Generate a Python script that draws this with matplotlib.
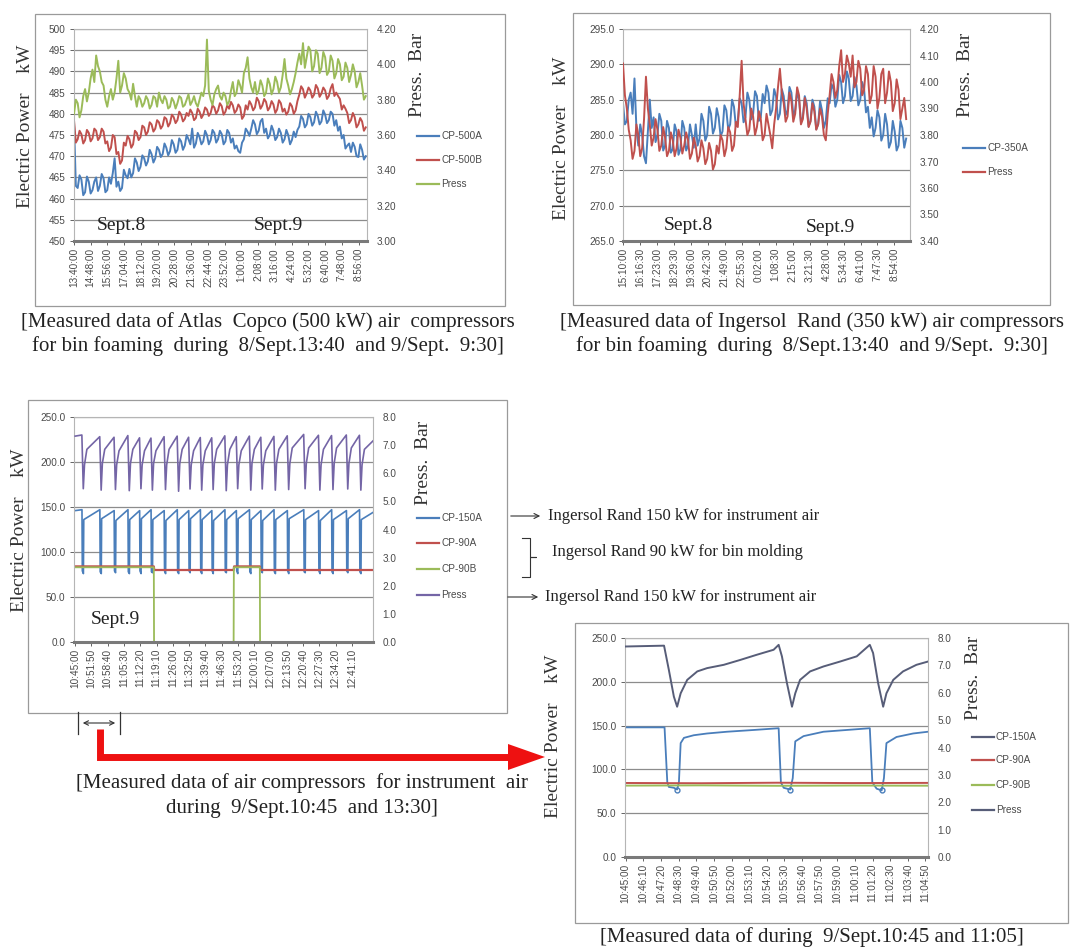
import numpy as np
import matplotlib.pyplot as plt
from matplotlib.lines import Line2D
from matplotlib.patches import Rectangle, FancyArrowPatch, Polygon
from matplotlib.ticker import FormatStrFormatter

W, H = 1078, 952
SERIF = "Liberation Serif"
SANS = "Liberation Sans"
TICK_COLOR = "#4a4a4a"

BLUE = "#4a7ebb"
RED = "#c0504d"
GREEN = "#9bbb59"
PURPLE = "#7465a6"
SLATE = "#575d78"

# --- Atlas Copco 500 kW, 8/Sept 13:40 - 9/Sept 9:30 (7.5 min samples) ---
ticks_500 = ["13:40:00", "14:48:00", "15:56:00", "17:04:00", "18:12:00", "19:20:00",
             "20:28:00", "21:36:00", "22:44:00", "23:52:00", "1:00:00", "2:08:00",
             "3:16:00", "4:24:00", "5:32:00", "6:40:00", "7:48:00", "8:56:00"]
cp500a = [
    478.0, 463.0, 462.5, 465.5, 464.5, 460.8, 461.5, 465.2, 464.0, 461.2,
    462.0, 464.0, 465.0, 461.8, 463.0, 465.8, 464.8, 461.5, 462.0, 465.0,
    463.5, 466.0, 469.5, 462.8, 464.0, 461.8, 462.5, 466.8, 465.5, 464.8,
    467.0, 465.0, 466.0, 469.5, 468.5, 466.5, 467.5, 470.2, 469.5, 467.8,
    468.8, 471.5, 470.5, 468.5, 469.5, 472.2, 471.5, 469.8, 470.5, 473.0,
    472.0, 470.2, 471.2, 473.8, 472.8, 470.8, 471.5, 474.2, 473.5, 471.5,
    472.5, 475.0, 474.0, 472.8, 476.5, 472.0, 473.0, 475.5, 474.5, 472.8,
    473.5, 476.0, 475.0, 472.8, 473.8, 476.2, 475.5, 473.2, 474.0, 476.0,
    475.2, 472.8, 473.5, 476.2, 475.5, 473.2, 474.2, 471.8, 472.5, 471.2,
    470.8, 473.2, 474.0, 476.5, 475.8, 474.8, 476.5, 478.5, 477.5, 475.2,
    476.0, 478.2, 478.8, 475.5, 476.5, 474.2, 475.0, 477.2, 476.0, 473.8,
    474.5, 476.5, 475.5, 473.2, 474.0, 476.2, 475.0, 472.8, 473.8, 475.8,
    474.5, 476.2, 477.0, 479.5, 478.8, 476.8, 477.5, 480.0, 479.2, 477.2,
    478.0, 480.5, 479.5, 477.5, 478.2, 480.8, 479.8, 477.8, 478.5, 480.5,
    480.0, 477.2, 478.5, 476.0, 477.0, 474.2, 475.0, 471.8, 472.5, 473.0,
    471.0, 473.2, 472.2, 470.0, 469.8, 472.8, 471.5, 469.2, 470.0]
cp500b = [
    478.5, 473.2, 474.0, 476.0, 475.2, 473.0, 473.8, 476.2, 475.5, 473.5,
    474.2, 476.5, 476.0, 473.8, 474.5, 476.5, 475.8, 473.0, 473.5, 471.2,
    472.0, 475.0, 474.5, 470.5, 471.0, 468.2, 469.0, 473.2, 472.5, 474.8,
    474.0, 472.0, 472.8, 476.0, 475.5, 473.8, 474.5, 477.2, 476.8, 475.0,
    475.8, 478.0, 477.5, 475.8, 476.5, 478.5, 478.0, 476.5, 477.2, 479.2,
    478.8, 477.0, 477.8, 479.8, 479.2, 477.8, 478.5, 480.5, 479.8, 478.2,
    478.8, 480.2, 479.5, 481.0, 480.2, 478.5, 479.0, 481.2, 480.5, 479.0,
    479.8, 481.5, 481.0, 479.5, 480.2, 482.0, 481.5, 480.0, 480.8, 482.5,
    481.8, 479.8, 480.5, 482.0, 481.2, 482.8, 482.0, 480.2, 480.8, 482.2,
    481.5, 478.8, 479.5, 482.0, 481.0, 483.0, 482.2, 480.8, 481.5, 483.8,
    483.0, 481.2, 482.0, 483.5, 482.8, 480.8, 481.5, 483.0, 482.2, 480.2,
    481.0, 483.2, 482.5, 480.5, 481.2, 479.8, 480.5, 482.5, 481.8, 480.0,
    480.8, 483.0, 484.5, 486.5, 485.8, 483.8, 484.8, 486.2, 485.5, 483.8,
    484.5, 486.8, 486.0, 484.0, 484.8, 486.2, 485.5, 483.5, 484.2, 486.0,
    487.0, 484.2, 485.0, 484.2, 483.5, 481.0, 482.0, 481.2, 480.2, 477.8,
    478.5, 480.2, 479.2, 476.8, 477.5, 479.0, 478.2, 476.0, 476.8]
press500 = [
    3.72, 3.80, 3.78, 3.70, 3.74, 3.82, 3.86, 3.79, 3.84, 3.92,
    3.97, 3.90, 4.05, 3.99, 3.96, 3.90, 3.88, 3.80, 3.76, 3.82,
    3.86, 3.80, 3.84, 3.92, 4.02, 3.84, 3.88, 3.95, 3.92, 3.86,
    3.84, 3.80, 3.89, 3.82, 3.76, 3.82, 3.80, 3.76, 3.78, 3.82,
    3.80, 3.75, 3.77, 3.82, 3.81, 3.76, 3.84, 3.80, 3.78, 3.82,
    3.80, 3.75, 3.76, 3.81, 3.79, 3.75, 3.78, 3.82, 3.81, 3.76,
    3.77, 3.80, 3.83, 3.77, 3.79, 3.82, 3.78, 3.76, 3.80, 3.84,
    3.82, 3.88, 4.14, 3.85, 3.80, 3.77, 3.83, 3.86, 3.88, 3.82,
    3.80, 3.84, 3.82, 3.77, 3.79, 3.85, 3.90, 3.82, 3.84, 3.91,
    3.88, 3.84, 3.95, 3.98, 4.04, 3.92, 3.87, 3.84, 3.90, 3.83,
    3.85, 3.91, 3.88, 3.82, 3.84, 3.92, 3.89, 3.83, 3.86, 3.93,
    3.90, 3.84, 3.87, 3.94, 4.03, 3.92, 3.88, 3.83, 3.86, 3.90,
    3.95, 4.01, 4.06, 4.00, 4.12, 3.98, 4.04, 4.10, 4.08, 3.96,
    3.99, 4.08, 4.06, 3.95, 3.98, 4.07, 4.04, 3.94, 3.96, 4.05,
    4.02, 3.92, 3.95, 4.03, 4.00, 3.91, 3.93, 4.01, 3.98, 3.90,
    3.94, 4.00, 3.96, 3.87, 3.90, 3.95, 3.88, 3.80, 3.82]

# --- Ingersol Rand 350 kW, same period (7.5 min samples) ---
ticks_350 = ["15:10:00", "16:16:30", "17:23:00", "18:29:30", "19:36:00", "20:42:30",
             "21:49:00", "22:55:30", "0:02:00", "1:08:30", "2:15:00", "3:21:30",
             "4:28:00", "5:34:30", "6:41:00", "7:47:30", "8:54:00"]
cp350a = [
    284.5, 281.5, 282.0, 285.0, 286.0, 283.0, 288.0, 281.0, 278.5, 281.5,
    280.0, 277.0, 276.0, 280.5, 285.0, 281.0, 282.5, 279.0, 280.0, 283.0,
    282.0, 277.8, 278.5, 282.0, 281.0, 277.5, 278.0, 281.5, 280.5, 277.2,
    278.0, 282.0, 281.0, 277.8, 278.5, 281.5, 280.0, 278.2, 281.5, 278.5,
    279.5, 283.0, 282.0, 279.2, 280.0, 284.0, 283.0, 280.2, 281.0, 283.8,
    282.5, 279.8, 280.5, 284.2, 283.5, 280.8, 281.5, 285.0, 284.0, 281.2,
    282.0, 285.2, 284.5, 281.8, 282.5, 286.0, 285.0, 282.2, 283.0, 286.2,
    285.5, 282.0, 282.5, 285.8, 284.5, 287.0, 286.0, 282.8, 283.5, 286.5,
    285.5, 282.2, 283.0, 286.5, 285.5, 282.8, 283.5, 286.8, 286.0, 282.8,
    283.5, 286.2, 285.0, 281.8, 282.5, 285.5, 284.5, 281.2, 282.0, 285.0,
    284.0, 280.8, 281.5, 284.8, 283.5, 281.0, 282.0, 285.2, 284.5, 287.2,
    286.5, 284.0, 285.0, 288.5, 287.5, 284.5, 285.5, 289.0, 288.0, 284.8,
    285.5, 288.2, 287.0, 284.2, 285.0, 287.5, 286.5, 283.2, 284.0, 281.0,
    282.5, 279.8, 281.0, 283.5, 282.5, 279.2, 280.0, 283.0, 281.5, 278.2,
    279.0, 282.0, 280.5, 277.8, 278.5, 282.0, 281.0, 278.2, 279.5]
press350 = [
    4.07, 3.95, 3.90, 3.82, 3.78, 3.71, 3.74, 3.84, 3.80, 3.72,
    3.75, 3.86, 4.02, 3.90, 3.84, 3.76, 3.79, 3.86, 3.82, 3.74,
    3.76, 3.83, 3.79, 3.72, 3.74, 3.81, 3.78, 3.72, 3.75, 3.82,
    3.79, 3.73, 3.76, 3.81, 3.78, 3.71, 3.73, 3.79, 3.76, 3.70,
    3.72, 3.78, 3.75, 3.69, 3.71, 3.77, 3.74, 3.67, 3.69, 3.76,
    3.73, 3.80, 3.78, 3.72, 3.75, 3.83, 3.81, 3.74, 3.76, 3.85,
    3.83, 3.95, 4.08, 3.92, 3.86, 3.80, 3.82, 3.90, 3.87, 3.80,
    3.83, 3.89, 3.86, 3.78, 3.80, 3.88, 3.84, 3.80, 3.75, 3.84,
    3.90, 3.98, 4.05, 3.96, 3.92, 3.85, 3.87, 3.96, 3.93, 3.85,
    3.88, 3.98, 3.95, 3.84, 3.86, 3.94, 3.90, 3.83, 3.85, 3.92,
    3.89, 3.82, 3.84, 3.90, 3.87, 3.80, 3.78, 3.88, 3.95, 4.03,
    4.00, 3.94, 3.97, 4.06, 4.12, 4.00, 4.03, 4.10, 4.07, 4.02,
    4.10, 3.98, 4.00, 4.08, 4.05, 3.95, 3.97, 4.06, 4.03, 3.92,
    3.95, 4.06, 4.02, 3.90, 3.94, 4.03, 4.05, 3.92, 3.96, 4.04,
    4.00, 3.89, 3.92, 4.01, 3.97, 3.86, 3.90, 3.94, 3.86]

# --- Instrument air compressors, 9/Sept 10:45 onwards (minutes) ---
ticks_inst = ["10:45:00", "10:51:50", "10:58:40", "11:05:30", "11:12:20", "11:19:10",
              "11:26:00", "11:32:50", "11:39:40", "11:46:30", "11:53:20", "12:00:10",
              "12:07:00", "12:13:50", "12:20:40", "12:27:30", "12:34:20", "12:41:10"]
press3_t = [
    0.0,
    2.8, 3.4, 3.9, 4.9,
    10.3, 10.9, 11.4, 12.4,
    16.3, 16.9, 17.4, 18.4,
    22.1, 22.7, 23.2, 24.2,
    27.0, 27.6, 28.1, 29.1,
    31.8, 32.4, 32.9, 33.9,
    37.3, 37.9, 38.4, 39.4,
    42.8, 43.4, 43.9, 44.9,
    47.6, 48.2, 48.7, 49.7,
    52.5, 53.1, 53.6, 54.6,
    57.3, 57.9, 58.4, 59.4,
    62.8, 63.4, 63.9, 64.9,
    67.6, 68.2, 68.7, 69.7,
    73.1, 73.7, 74.2, 75.2,
    77.9, 78.5, 79.0, 80.0,
    83.4, 84.0, 84.5, 85.5,
    89.0, 89.6, 90.1, 91.1,
    95.9, 96.5, 97.0, 98.0,
    102.1, 102.7, 103.2, 104.2,
    107.6, 108.2, 108.7, 109.7,
    113.8, 114.4, 114.9, 115.9,
    119.3, 119.9, 120.4, 121.4,
    125.0]
press3_v = [
    7.32,
    7.36, 5.45, 6.30, 6.85,
    7.30, 5.40, 6.35, 6.85,
    7.28, 5.42, 6.30, 6.80,
    7.34, 5.38, 6.35, 6.85,
    7.26, 5.45, 6.30, 6.80,
    7.25, 5.40, 6.35, 6.80,
    7.30, 5.42, 6.30, 6.85,
    7.32, 5.36, 6.35, 6.85,
    7.28, 5.44, 6.30, 6.80,
    7.27, 5.40, 6.30, 6.80,
    7.26, 5.42, 6.35, 6.85,
    7.33, 5.38, 6.30, 6.85,
    7.30, 5.45, 6.30, 6.80,
    7.32, 5.40, 6.35, 6.85,
    7.28, 5.44, 6.30, 6.80,
    7.31, 5.40, 6.35, 6.85,
    7.33, 5.42, 6.35, 6.90,
    7.38, 5.45, 6.35, 6.90,
    7.35, 5.40, 6.30, 6.85,
    7.34, 5.42, 6.35, 6.90,
    7.36, 5.44, 6.35, 6.90,
    7.35, 5.40, 6.30, 6.85,
    7.15]
cp150_3_t = [
    0.0,
    2.85, 3.0, 3.45, 3.6,
    10.35, 10.5, 10.95, 11.1,
    16.35, 16.5, 16.95, 17.1,
    22.15, 22.3, 22.75, 22.9,
    27.05, 27.2, 27.65, 27.8,
    31.85, 32.0, 32.45, 32.6,
    37.35, 37.5, 37.95, 38.1,
    42.85, 43.0, 43.45, 43.6,
    47.65, 47.8, 48.25, 48.4,
    52.55, 52.7, 53.15, 53.3,
    57.35, 57.5, 57.95, 58.1,
    62.85, 63.0, 63.45, 63.6,
    67.65, 67.8, 68.25, 68.4,
    73.15, 73.3, 73.75, 73.9,
    77.95, 78.1, 78.55, 78.7,
    83.45, 83.6, 84.05, 84.2,
    89.05, 89.2, 89.65, 89.8,
    95.95, 96.1, 96.55, 96.7,
    102.15, 102.3, 102.75, 102.9,
    107.65, 107.8, 108.25, 108.4,
    113.85, 114.0, 114.45, 114.6,
    119.35, 119.5, 119.95, 120.1,
    125.0]
cp150_3_v = [
    146,
    147, 79, 76, 136,
    147, 78, 76, 137,
    146, 79, 77, 135,
    147, 78, 76, 136,
    146, 79, 76, 137,
    147, 78, 77, 136,
    146, 79, 76, 135,
    147, 78, 76, 136,
    146, 79, 77, 137,
    147, 78, 76, 136,
    146, 79, 76, 135,
    147, 78, 77, 136,
    146, 79, 76, 137,
    147, 78, 76, 136,
    146, 79, 77, 135,
    147, 78, 76, 136,
    146, 79, 76, 137,
    147, 78, 77, 136,
    146, 79, 76, 135,
    147, 78, 76, 136,
    146, 79, 77, 137,
    147, 78, 76, 136,
    144]
cp90a_3_t = [0.0, 33.0, 33.2, 66.5, 66.7, 77.5, 77.7, 125.0]
cp90a_3_v = [84, 84, 80, 80, 84, 84, 80, 80]
cp90b_3_t = [0.0, 33.0, 33.1, 66.5, 66.6, 77.5, 77.6, 125.0]
cp90b_3_v = [83, 83, 0, 0, 83, 83, 0, 0]

# --- Close-up 9/Sept 10:45 - 11:05 (seconds) ---
ticks_zoom = ["10:45:00", "10:46:10", "10:47:20", "10:48:30", "10:49:40", "10:50:50",
              "10:52:00", "10:53:10", "10:54:20", "10:55:30", "10:56:40", "10:57:50",
              "10:59:00", "11:00:10", "11:01:20", "11:02:30", "11:03:40", "11:04:50"]
press4_t = [0, 152, 171, 191, 204, 218, 244, 284, 323, 389,
            455, 521, 587, 607, 620, 640, 660, 673, 692, 732,
            785, 851, 917, 969, 982, 1002, 1022, 1035, 1062, 1101,
            1154, 1200]
press4_v = [7.69, 7.72, 6.84, 5.86, 5.49, 5.98, 6.47, 6.78, 6.90, 7.02,
            7.20, 7.39, 7.57, 7.75, 7.33, 6.35, 5.49, 5.98, 6.47, 6.78,
            6.96, 7.14, 7.33, 7.75, 7.45, 6.35, 5.49, 5.98, 6.47, 6.78,
            7.02, 7.14]
cp150_4_t = [0, 154, 165, 171, 191, 204, 211, 218, 231, 270,
             323, 402, 508, 607, 616, 627, 653, 663, 673, 706,
             785, 877, 969, 979, 996, 1016, 1025, 1035, 1075, 1141,
             1200]
cp150_4_v = [148, 148, 85, 80, 79, 77, 85, 130, 136, 139,
             141, 143, 145, 147, 85, 79, 77, 90, 132, 138,
             143, 145, 147, 85, 78, 76, 90, 130, 137, 141,
             143]
cp90_4_t = [0, 300, 600, 900, 1200]
cp90a_4_v = [84.5, 84.2, 84.8, 84.4, 84.6]
cp90b_4_v = [81.5, 81.8, 81.3, 81.6, 81.4]

plt.rcParams["font.family"] = SANS


def fpt(x, y):
    """Pixel position (from the top-left corner) to figure fraction."""
    return x / W, 1 - y / H


def make_chart(fig, box, plot):
    bx0, by0, bx1, by1 = box
    fig.add_artist(Rectangle(fpt(bx0, by1), (bx1 - bx0) / W, (by1 - by0) / H,
                             transform=fig.transFigure, fill=False,
                             ec="#9a9a9a", lw=0.9))
    x0, y0, x1, y1 = plot
    ax = fig.add_axes([x0 / W, 1 - y1 / H, (x1 - x0) / W, (y1 - y0) / H])
    ax2 = ax.twinx()
    for sp in ax.spines.values():
        sp.set_color("#b5b5b5")
        sp.set_linewidth(0.8)
    ax.spines["bottom"].set_color("#7a7a7a")
    ax.spines["bottom"].set_linewidth(2.2)
    for sp in ax2.spines.values():
        sp.set_visible(False)
    ax.grid(axis="y", color="#8c8c8c", lw=0.9)
    ax.set_axisbelow(True)
    ax.tick_params(axis="y", labelsize=7.2, colors=TICK_COLOR, length=3, width=0.6, pad=3)
    ax.tick_params(axis="x", labelsize=7.2, colors=TICK_COLOR, length=3, width=0.6,
                   labelrotation=90, pad=2)
    ax2.tick_params(axis="y", labelsize=7.2, colors=TICK_COLOR, length=0, pad=7)
    return ax, ax2


def side_labels(fig, left_xy, right_xy):
    fig.text(*fpt(*left_xy), "Electric Power    kW", family=SERIF, fontsize=14,
             rotation=90, ha="center", va="center", color="#333333")
    fig.text(*fpt(*right_xy), "Press.  Bar", family=SERIF, fontsize=14,
             rotation=90, ha="center", va="center", color="#333333")


def legend_rows(fig, x, ys, labels, colors):
    for y, lab, col in zip(ys, labels, colors):
        fig.add_artist(Line2D([x / W, (x + 22) / W], [1 - y / H, 1 - y / H],
                              transform=fig.transFigure, color=col, lw=1.6))
        fig.text(*fpt(x + 24, y), lab, fontsize=7.2, va="center", color=TICK_COLOR)


def caption(fig, x, y, s):
    fig.text(*fpt(x, y), s, family=SERIF, fontsize=15, ha="center", va="center",
             color="#222222")


def note(fig, x, y, s, size=14):
    fig.text(*fpt(x, y), s, family=SERIF, fontsize=size, ha="center", va="center",
             color="#222222")


fig = plt.figure(figsize=(W / 100, H / 100), dpi=100)

# Atlas Copco 500 kW
ax, ax2 = make_chart(fig, (35, 14, 505, 306), (74, 29, 367, 241))
ax.plot(np.linspace(0, 1185, len(cp500a)), cp500a, color=BLUE, lw=1.4)
ax.plot(np.linspace(0, 1185, len(cp500b)), cp500b, color=RED, lw=1.4)
ax2.plot(np.linspace(0, 1185, len(press500)), press500, color=GREEN, lw=1.4)
ax.set_xlim(0, 1190)
ax.set_ylim(450, 500)
ax.set_yticks(np.arange(450, 501, 5))
ax2.set_ylim(3.0, 4.2)
ax2.set_yticks(np.arange(3.0, 4.21, 0.2))
ax2.yaxis.set_major_formatter(FormatStrFormatter("%.2f"))
ax.set_xticks(np.arange(len(ticks_500)) * 68)
ax.set_xticklabels(ticks_500)
side_labels(fig, (26, 126), (418, 75))
legend_rows(fig, 417, [136, 160, 184], ["CP-500A", "CP-500B", "Press"], [BLUE, RED, GREEN])
note(fig, 121, 226, "Sept.8")
note(fig, 278, 226, "Sept.9")
caption(fig, 268, 322, "[Measured data of Atlas  Copco (500 kW) air  compressors")
caption(fig, 268, 346, "for bin foaming  during  8/Sept.13:40  and 9/Sept.  9:30]")

# Ingersol Rand 350 kW
ax, ax2 = make_chart(fig, (573, 13, 1050, 305), (623, 29, 910, 241))
ax.plot(np.linspace(0, 1110, len(cp350a)), cp350a, color=BLUE, lw=1.4)
ax2.plot(np.linspace(0, 1110, len(press350)), press350, color=RED, lw=1.4)
ax.set_xlim(0, 1125)
ax.set_ylim(265, 295)
ax.set_yticks(np.arange(265, 296, 5))
ax.yaxis.set_major_formatter(FormatStrFormatter("%.1f"))
ax2.set_ylim(3.4, 4.2)
ax2.set_yticks(np.arange(3.4, 4.21, 0.1))
ax2.yaxis.set_major_formatter(FormatStrFormatter("%.2f"))
ax.set_xticks(np.arange(len(ticks_350)) * 66.5)
ax.set_xticklabels(ticks_350)
side_labels(fig, (561, 138), (966, 75))
legend_rows(fig, 963, [148, 172], ["CP-350A", "Press"], [BLUE, RED])
note(fig, 688, 225, "Sept.8")
note(fig, 830, 228, "Sept.9")
caption(fig, 812, 322, "[Measured data of Ingersol  Rand (350 kW) air compressors")
caption(fig, 812, 346, "for bin foaming  during  8/Sept.13:40  and 9/Sept.  9:30]")

# Instrument air compressors, full period
ax, ax2 = make_chart(fig, (28, 400, 507, 713), (74, 417, 373, 642))
ax.plot(cp150_3_t, cp150_3_v, color=BLUE, lw=1.2)
ax.plot(cp90a_3_t, cp90a_3_v, color=RED, lw=1.6)
ax.plot(cp90b_3_t, cp90b_3_v, color=GREEN, lw=1.3)
ax2.plot(press3_t, press3_v, color=PURPLE, lw=1.2)
ax.set_xlim(-0.5, 125)
ax.set_ylim(0, 250)
ax.set_yticks(np.arange(0, 251, 50))
ax.yaxis.set_major_formatter(FormatStrFormatter("%.1f"))
ax2.set_ylim(0, 8)
ax2.set_yticks(np.arange(0, 8.1, 1))
ax2.yaxis.set_major_formatter(FormatStrFormatter("%.1f"))
ax.set_xticks(np.arange(len(ticks_inst)) * 41 / 6)
ax.set_xticklabels(ticks_inst)
side_labels(fig, (20, 530), (424, 463))
legend_rows(fig, 417, [518, 543, 569, 595], ["CP-150A", "CP-90A", "CP-90B", "Press"],
            [BLUE, RED, GREEN, PURPLE])
note(fig, 115, 620, "Sept.9")
caption(fig, 302, 783, "[Measured data of air compressors  for instrument  air")
caption(fig, 302, 808, "during  9/Sept.10:45  and 13:30]")

# Close-up of the first twenty minutes
ax, ax2 = make_chart(fig, (575, 623, 1068, 923), (625, 638, 928, 857))
ax.plot(cp150_4_t, cp150_4_v, color=BLUE, lw=1.3, marker="o", ms=3.5, mfc="none",
        markevery=[5, 16, 25])
ax.plot(cp90_4_t, cp90a_4_v, color=RED, lw=1.4)
ax.plot(cp90_4_t, cp90b_4_v, color=GREEN, lw=1.4)
ax2.plot(press4_t, press4_v, color=SLATE, lw=1.4)
ax.set_xlim(-3, 1200)
ax.set_ylim(0, 250)
ax.set_yticks(np.arange(0, 251, 50))
ax.yaxis.set_major_formatter(FormatStrFormatter("%.1f"))
ax2.set_ylim(0, 8)
ax2.set_yticks(np.arange(0, 8.1, 1))
ax2.yaxis.set_major_formatter(FormatStrFormatter("%.1f"))
ax.set_xticks(np.arange(len(ticks_zoom)) * 70)
ax.set_xticklabels(ticks_zoom)
side_labels(fig, (554, 736), (974, 678))
legend_rows(fig, 972, [737, 760, 785, 810], ["CP-150A", "CP-90A", "CP-90B", "Press"],
            [SLATE, RED, GREEN, SLATE])
caption(fig, 812, 937, "[Measured data of during  9/Sept.10:45 and 11:05]")


# notes beside the instrument-air legend
def thin_arrow(x0, x1, y):
    fig.add_artist(FancyArrowPatch(fpt(x0, y), fpt(x1, y), transform=fig.transFigure,
                                   arrowstyle="->", mutation_scale=9, lw=0.8,
                                   color="#333333"))


thin_arrow(508, 543, 516)
fig.text(*fpt(548, 516), "Ingersol Rand 150 kW for instrument air", family=SERIF,
         fontsize=12, va="center", color="#222222")
bracket = [(522, 538), (530, 538), (530, 557), (536, 557), (530, 557), (530, 577), (522, 577)]
fig.add_artist(Line2D([p[0] / W for p in bracket], [1 - p[1] / H for p in bracket],
                      transform=fig.transFigure, color="#333333", lw=0.8))
fig.text(*fpt(552, 552), "Ingersol Rand 90 kW for bin molding", family=SERIF,
         fontsize=12, va="center", color="#222222")
thin_arrow(505, 541, 597)
fig.text(*fpt(545, 597), "Ingersol Rand 150 kW for instrument air", family=SERIF,
         fontsize=12, va="center", color="#222222")

# span marker under the time axis and the red pointer to the close-up
fig.add_artist(FancyArrowPatch(fpt(80, 723), fpt(118, 723), transform=fig.transFigure,
                               arrowstyle="<->", mutation_scale=8, lw=0.8, color="#333333"))
for bx in (78, 120):
    fig.add_artist(Line2D([bx / W, bx / W], [1 - 712 / H, 1 - 734 / H],
                          transform=fig.transFigure, color="#333333", lw=0.9))
red_path = [(100, 729), (100, 757), (512, 757)]
fig.add_artist(Line2D([p[0] / W for p in red_path], [1 - p[1] / H for p in red_path],
                      transform=fig.transFigure, color="#ee1111", lw=5,
                      solid_joinstyle="miter", solid_capstyle="butt"))
head = [fpt(508, 744), fpt(545, 757), fpt(508, 770)]
fig.add_artist(Polygon(head, closed=True, transform=fig.transFigure, color="#ee1111", lw=0))

fig.savefig("out.png", dpi=100)
